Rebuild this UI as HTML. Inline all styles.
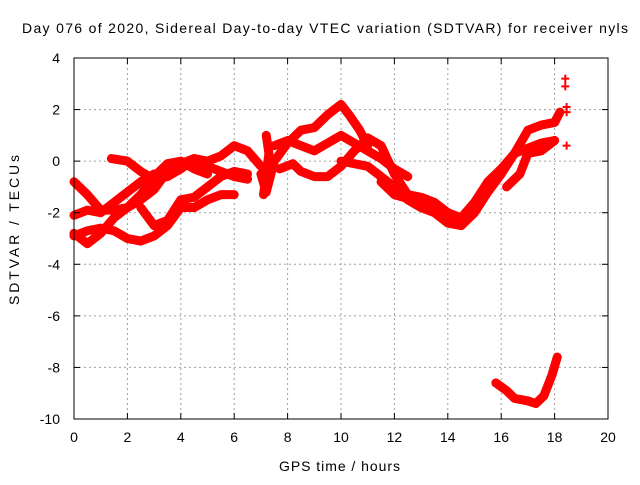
<!DOCTYPE html>
<html><head><meta charset="utf-8"><style>
body{margin:0;background:#fff}
svg text{font-family:"Liberation Sans",sans-serif;font-size:14px;fill:#000}
</style></head><body>
<svg id="chart" width="640" height="480" xmlns="http://www.w3.org/2000/svg">
<rect width="640" height="480" fill="#fff"/>
<g id="grid"></g>
<g id="series"></g>
<rect x="74" y="58" width="534" height="361" fill="none" stroke="#000" stroke-width="1"/>
<g id="ticks"></g>
<text x="22" y="33" textLength="606" lengthAdjust="spacing">Day 076 of 2020, Sidereal Day-to-day VTEC variation (SDTVAR) for receiver nyls</text>
<text x="279" y="471" textLength="121" lengthAdjust="spacing">GPS time / hours</text>
<text transform="translate(19,305) rotate(-90)" textLength="150" lengthAdjust="spacing">SDTVAR / TECUs</text>
</svg>
<script>
const xTicks=[0,2,4,6,8,10,12,14,16,18,20];
const yTicks=[4,2,0,-2,-4,-6,-8,-10];
const track1=[[0,-0.8],[0.5,-1.3],[1,-1.9],[1.5,-1.9],[2,-1.8],[2.5,-1.5],[3,-1.1],[3.5,-0.4],[4,-0.1],[4.5,0.1],[5,0.0],[5.5,0.2],[6,0.6],[6.5,0.4],[7,-0.2]];
const track2=[[0,-2.1],[0.5,-1.9],[1,-2.0],[1.5,-1.6],[2,-1.2],[2.5,-0.8],[3,-0.5]];
const track3=[[0,-2.8],[0.5,-3.2],[1,-2.8],[1.5,-2.2],[2,-1.8],[2.5,-1.3],[3,-0.6],[3.5,-0.1],[4,0],[4.5,-0.3],[5,-0.5]];
const track4=[[1.4,0.1],[2,0],[2.5,-0.4],[3,-0.7],[3.5,-0.6],[4,-0.3],[4.5,0.1],[5,-0.2],[5.5,-0.4],[6,-0.6],[6.5,-0.7]];
const track5=[[0,-2.9],[0.5,-2.7],[1,-2.6],[1.5,-2.7],[2,-3.0],[2.5,-3.1],[3,-2.9],[3.5,-2.5],[4,-1.8],[4.5,-1.8],[5,-1.5],[5.5,-1.3],[6,-1.3]];
const track6=[[2.5,-1.8],[3,-2.5],[3.5,-2.3],[4,-1.5],[4.5,-1.4],[5,-1.0],[5.5,-0.6],[6,-0.4],[6.5,-0.5]];
const track7=[[7,-0.5],[7.2,-1.2],[7.5,0],[8,0.7],[8.5,1.2],[9,1.3],[9.5,1.8],[10,2.2],[10.3,1.8],[10.7,1.2],[11,0.6]];
const track8=[[7.5,0.6],[8,0.8],[8.5,0.6],[9,0.4],[9.5,0.7],[10,1.0],[10.5,0.7],[11,0.4],[11.5,0.1],[12,-0.3],[12.5,-0.6]];
const track9=[[7.7,-0.3],[8.2,-0.1],[8.5,-0.4],[9,-0.6],[9.5,-0.6],[10,-0.2],[10.5,0.4],[11,0.9],[11.5,0.6],[12,-0.5],[12.5,-1.3],[13,-1.4],[13.5,-1.6],[14,-2.0],[14.5,-2.3]];
const track10=[[10,0.0],[11,-0.2],[12,-1.0],[12.5,-1.5],[13,-1.8],[13.5,-2.0],[14,-2.4],[14.5,-2.5],[15,-2.0],[15.5,-1.2],[16,-0.5],[16.5,0.3],[17,1.2],[17.5,1.4],[18,1.5],[18.2,1.9]];
const track11=[[11.5,-0.8],[12,-1.3],[13,-1.6],[14,-2.0],[14.5,-2.2],[15,-1.6],[15.5,-0.8],[16,-0.3],[16.5,0.3],[17,0.5],[17.5,0.7],[18,0.8]];
const track12=[[16.2,-1.0],[16.7,-0.5],[17,0.3],[17.5,0.4],[18,0.8]];
const track13=[[7.2,1.0],[7.3,0.3],[7.1,-1.3]];
const trackLow=[[15.8,-8.6],[16.2,-8.9],[16.5,-9.2],[17,-9.3],[17.3,-9.4],[17.6,-9.1],[17.9,-8.3],[18.1,-7.6]];
const isolated=[[18.4,3.2],[18.4,2.9],[18.45,2.1],[18.45,1.9],[18.45,0.6]];
const tracks=[track1,track2,track3,track4,track5,track6,track7,track8,track9,track10,track11,track12,track13,trackLow];

const NS="http://www.w3.org/2000/svg";
const X=h=>74+h*(534/20);
const Y=v=>58+(4-v)*(361/14);
function mk(tag,attrs,parent){const e=document.createElementNS(NS,tag);for(const k in attrs)e.setAttribute(k,attrs[k]);parent.appendChild(e);return e;}
const grid=document.getElementById('grid'),ticks=document.getElementById('ticks'),series=document.getElementById('series');
xTicks.forEach(t=>{
 if(t>0&&t<20){const g=mk('line',{x1:X(t),x2:X(t),y1:58,y2:419,stroke:'#a0a0a0','stroke-dasharray':'2,3'},grid);
 
 }
 mk('line',{x1:X(t),x2:X(t),y1:419,y2:413,stroke:'#000'},ticks);
 mk('line',{x1:X(t),x2:X(t),y1:58,y2:64,stroke:'#000'},ticks);
 const l=mk('text',{x:X(t),y:442,'text-anchor':'middle'},ticks);l.textContent=t;
 
 
});
yTicks.forEach(t=>{
 if(t<4&&t>-10){const g=mk('line',{x1:74,x2:608,y1:Y(t),y2:Y(t),stroke:'#a0a0a0','stroke-dasharray':'2,3'},grid);
 
 }
 mk('line',{x1:74,x2:80,y1:Y(t),y2:Y(t),stroke:'#000'},ticks);
 mk('line',{x1:608,x2:602,y1:Y(t),y2:Y(t),stroke:'#000'},ticks);
 const l=mk('text',{x:60,y:Y(t)+5,'text-anchor':'end'},ticks);l.textContent=t;
 
 
});
tracks.forEach(tr=>{
 const p=mk('polyline',{points:tr.map(d=>X(d[0])+','+Y(d[1])).join(' '),fill:'none',stroke:'#ff0000','stroke-width':9,'stroke-linejoin':'round','stroke-linecap':'round'},series);
 
 
});
isolated.forEach(d=>{
 const p=mk('path',{d:`M${X(d[0])-4},${Y(d[1])}h8M${X(d[0])},${Y(d[1])-4}v8`,stroke:'#ff0000','stroke-width':2},series);
 
 
});
</script>
</body></html>
